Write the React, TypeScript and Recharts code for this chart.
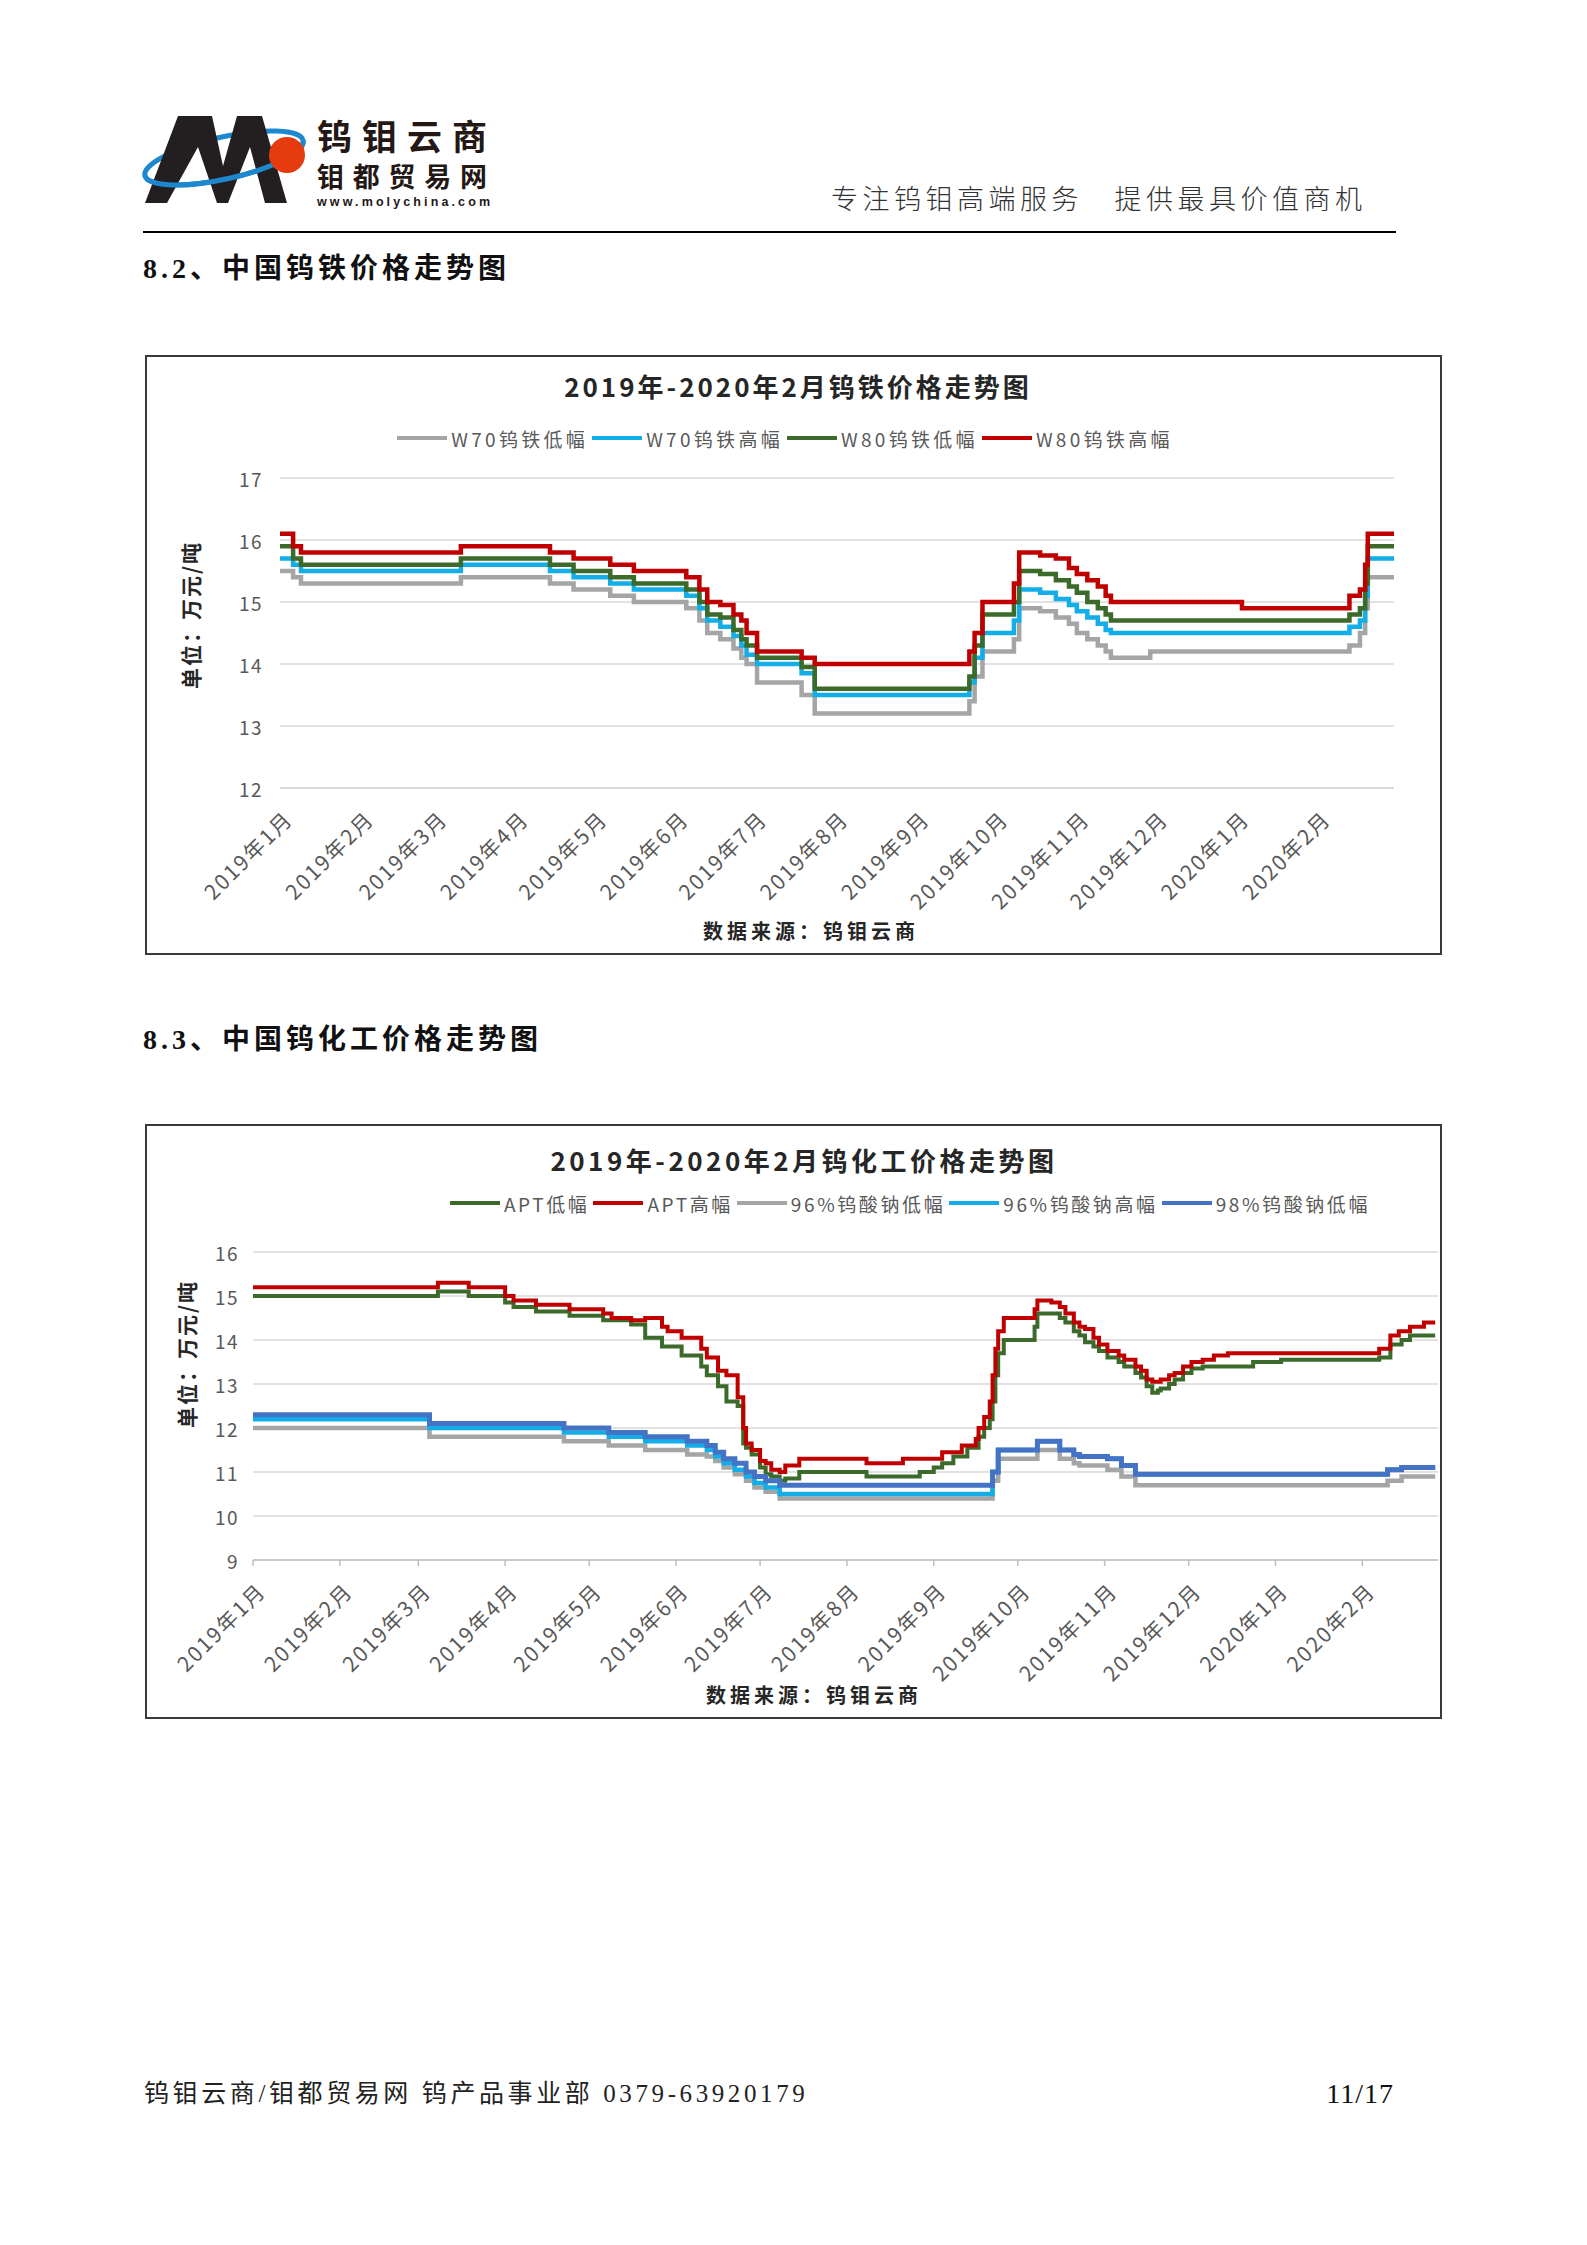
import React from 'react';
import { LineChart, Line, XAxis, YAxis, CartesianGrid } from 'recharts';

const FONT = "'Noto Sans CJK SC', 'Noto Sans', sans-serif";
const SERIF = "'Liberation Serif', 'Noto Sans CJK SC', serif";

// ---------- shared month ticks (day index from 2019-01-01) ----------
const monthTickDays = [0, 31, 59, 90, 120, 151, 181, 212, 243, 273, 304, 334, 365, 396];
const monthTickLabels = [
  '2019年1月', '2019年2月', '2019年3月', '2019年4月', '2019年5月', '2019年6月', '2019年7月',
  '2019年8月', '2019年9月', '2019年10月', '2019年11月', '2019年12月', '2020年1月', '2020年2月',
];

// ---------- Chart 1: 钨铁 ----------
const ferroTitle = '2019年-2020年2月钨铁价格走势图';
const ferroNames = ['W70钨铁低幅', 'W70钨铁高幅', 'W80钨铁低幅', 'W80钨铁高幅'];
const ferroYTicks = [12, 13, 14, 15, 16, 17];
const ferroDays = [0, 5, 8, 69, 103, 112, 126, 135, 155, 160, 163, 168, 173, 176, 178, 182, 199, 204, 263, 265,
  268, 280, 282, 290, 296, 301, 304, 308, 312, 315, 317, 332, 367, 408, 412, 414, 415, 425];
const w80High = [16.1, 15.9, 15.8, 15.9, 15.8, 15.7, 15.6, 15.5, 15.4, 15.2, 15.0, 14.95, 14.8, 14.7, 14.5, 14.2, 14.1, 14.0, 14.2, 14.5,
  15.0, 15.3, 15.8, 15.75, 15.7, 15.55, 15.45, 15.35, 15.25, 15.1, 15.0, 15.0, 14.9, 15.1, 15.2, 15.6, 16.1, 16.1];
const w80Low = [15.9, 15.7, 15.6, 15.7, 15.6, 15.5, 15.4, 15.3, 15.2, 15.0, 14.8, 14.75, 14.55, 14.4, 14.3, 14.1, 13.95, 13.6, 13.8, 14.3,
  14.8, 15.0, 15.5, 15.45, 15.35, 15.25, 15.15, 15.0, 14.9, 14.8, 14.7, 14.7, 14.7, 14.8, 14.9, 15.3, 15.9, 15.9];
const w70High = [15.7, 15.6, 15.5, 15.6, 15.5, 15.4, 15.3, 15.2, 15.1, 14.9, 14.7, 14.6, 14.45, 14.3, 14.15, 14.0, 13.85, 13.5, 13.7, 14.1,
  14.5, 14.7, 15.2, 15.15, 15.05, 14.95, 14.85, 14.75, 14.65, 14.55, 14.5, 14.5, 14.5, 14.6, 14.7, 15.1, 15.7, 15.7];
const w70Low = [15.5, 15.4, 15.3, 15.4, 15.3, 15.2, 15.1, 15.0, 14.9, 14.7, 14.5, 14.4, 14.25, 14.1, 14.0, 13.7, 13.5, 13.2, 13.4, 13.8,
  14.2, 14.4, 14.9, 14.85, 14.75, 14.65, 14.5, 14.4, 14.3, 14.2, 14.1, 14.2, 14.2, 14.3, 14.5, 14.9, 15.4, 15.4];

// ---------- Chart 2: 钨化工 ----------
const chemTitle = '2019年-2020年2月钨化工价格走势图';
const chemNames = ['APT低幅', 'APT高幅', '96%钨酸钠低幅', '96%钨酸钠高幅', '98%钨酸钠低幅'];
const chemYTicks = [9, 10, 11, 12, 13, 14, 15, 16];
const aptDays = [0, 66, 77, 90, 93, 101, 113, 125, 128, 135,
  140, 146, 148, 153, 160, 162, 166, 169, 173, 175,
  176, 178, 181, 183, 185, 188, 190, 195, 219, 232,
  238, 243, 246, 250, 253, 255, 258, 259, 261, 263,
  264, 265, 266, 268, 279, 280, 285, 288, 290, 293,
  295, 297, 300, 302, 305, 309, 311, 315, 317, 319,
  321, 323, 324, 327, 329, 332, 335, 339, 343, 348,
  357, 367, 402, 406, 409, 410, 413, 418, 422];
const aptHigh = [15.2, 15.3, 15.2, 15.0, 14.9, 14.8, 14.7, 14.6, 14.5, 14.45,
  14.5, 14.3, 14.2, 14.05, 13.8, 13.6, 13.3, 13.2, 12.7, 12.0,
  11.65, 11.5, 11.25, 11.2, 11.05, 11.0, 11.15, 11.3, 11.2, 11.3,
  11.3, 11.3, 11.45, 11.45, 11.6, 11.6, 11.75, 12.0, 12.25, 12.6,
  13.2, 13.8, 14.2, 14.5, 14.7, 14.9, 14.85, 14.75, 14.6, 14.4,
  14.3, 14.25, 14.05, 13.9, 13.75, 13.65, 13.55, 13.4, 13.3, 13.1,
  13.05, 13.05, 13.1, 13.2, 13.25, 13.4, 13.5, 13.55, 13.65, 13.7,
  13.7, 13.7, 13.8, 14.1, 14.2, 14.2, 14.3, 14.4, 14.4];
const aptLow = [15.0, 15.1, 15.0, 14.85, 14.75, 14.65, 14.55, 14.45, 14.45, 14.35,
  14.05, 13.85, 13.85, 13.65, 13.4, 13.2, 12.95, 12.6, 12.5, 11.65,
  11.55, 11.4, 11.1, 10.95, 10.9, 10.8, 10.85, 11.0, 10.9, 10.9,
  11.0, 11.1, 11.2, 11.35, 11.35, 11.55, 11.55, 11.8, 12.0, 12.2,
  12.6, 13.2, 13.7, 14.0, 14.3, 14.6, 14.6, 14.5, 14.4, 14.2,
  14.1, 13.95, 13.85, 13.75, 13.6, 13.5, 13.4, 13.25, 13.15, 12.95,
  12.8, 12.85, 12.9, 13.0, 13.1, 13.25, 13.35, 13.4, 13.4, 13.4,
  13.5, 13.55, 13.6, 13.9, 13.9, 14.0, 14.1, 14.1, 14.1];
const naDays = [0, 63, 111, 127, 140, 155, 162, 165, 168, 172, 176, 179, 183, 188, 264, 266, 280, 288, 293, 295, 305, 310, 315, 405, 410, 422];
const na98Low = [12.3, 12.1, 12.0, 11.9, 11.8, 11.7, 11.6, 11.45, 11.3, 11.2, 11.0, 10.9, 10.8, 10.7, 11.0, 11.5, 11.7, 11.5, 11.4, 11.35, 11.3, 11.15, 10.95, 11.05, 11.1, 11.1];
const na96High = [12.2, 12.0, 11.9, 11.8, 11.7, 11.6, 11.5, 11.35, 11.2, 11.05, 10.9, 10.75, 10.65, 10.5, 11.0, 11.5, 11.7, 11.5, 11.4, 11.35, 11.3, 11.15, 10.95, 11.05, 11.1, 11.1];
const na96Low = [12.0, 11.8, 11.7, 11.6, 11.5, 11.4, 11.35, 11.25, 11.1, 10.95, 10.8, 10.65, 10.55, 10.4, 10.8, 11.3, 11.5, 11.3, 11.2, 11.15, 11.05, 10.9, 10.7, 10.8, 10.9, 10.9];

const toPoints = (days: number[], vals: number[]) => days.map((d, i) => ({ d, v: vals[i] }));

const ferroSeries = [
  { name: ferroNames[0], color: '#A5A5A5', width: 4.5, points: toPoints(ferroDays, w70Low) },
  { name: ferroNames[1], color: '#13ADE8', width: 4.5, points: toPoints(ferroDays, w70High) },
  { name: ferroNames[2], color: '#3B6A2B', width: 4.5, points: toPoints(ferroDays, w80Low) },
  { name: ferroNames[3], color: '#C00000', width: 4.5, points: toPoints(ferroDays, w80High) },
];

const chemSeries = [
  { name: chemNames[0], color: '#3B6A2B', width: 4, points: toPoints(aptDays, aptLow) },
  { name: chemNames[1], color: '#C00000', width: 4, points: toPoints(aptDays, aptHigh) },
  { name: chemNames[2], color: '#A5A5A5', width: 4.5, points: toPoints(naDays, na96Low) },
  { name: chemNames[3], color: '#13ADE8', width: 4.5, points: toPoints(naDays, na96High) },
  { name: chemNames[4], color: '#4472C4', width: 5, points: toPoints(naDays, na98Low) },
];

const makeXTick = (dx: number, dy: number) => (props: any) => {
  const { x, y, payload } = props;
  const idx = monthTickDays.indexOf(payload.value);
  const label = idx >= 0 ? monthTickLabels[idx] : '';
  return (
    <g transform={`translate(${x + dx},${y + dy})`}>
      <text textAnchor="end" dominantBaseline="central" transform="rotate(-45)" fontSize={21}
        letterSpacing={2} fill="#595959" fontFamily={FONT}>{label}</text>
    </g>
  );
};

const YTick = (props: any) => {
  const { x, y, payload } = props;
  return (
    <text x={x} y={y} textAnchor="end" dominantBaseline="central" fontSize={19} letterSpacing={1.5}
      fill="#595959" fontFamily={FONT}>{payload.value}</text>
  );
};

const CenterText = ({ cx, cy, size, children, weight = 700, spacing = 0, color = '#262626' }: any) => (
  <div style={{
    position: 'absolute', left: cx - 400, top: cy - size * 0.7, width: 800, height: size * 1.4,
    lineHeight: `${size * 1.4}px`, textAlign: 'center', fontSize: size, fontWeight: weight,
    letterSpacing: spacing, color, fontFamily: FONT, whiteSpace: 'nowrap',
  }}>{children}</div>
);

const VText = ({ cx, cy, size, children }: any) => (
  <div style={{
    position: 'absolute', left: cx - 150, top: cy - 16, width: 300, height: 32, lineHeight: '32px',
    textAlign: 'center', fontSize: size, fontWeight: 700, letterSpacing: 2, color: '#262626',
    fontFamily: FONT, transform: 'rotate(-90deg)', whiteSpace: 'nowrap',
  }}>{children}</div>
);

const LegendRow = ({ cx, cy, items, spacing }: any) => (
  <div style={{
    position: 'absolute', left: cx - 700, top: cy - 15, width: 1400, height: 30, display: 'flex',
    justifyContent: 'center', alignItems: 'center', fontFamily: FONT,
  }}>
    {items.map((it: any) => (
      <div key={it.name} style={{ display: 'flex', alignItems: 'center', marginRight: 4 }}>
        <div style={{ width: 50, height: 4.5, background: it.color, marginRight: 4 }} />
        <span style={{ fontSize: 19, letterSpacing: spacing, color: '#595959', whiteSpace: 'nowrap' }}>{it.name}</span>
      </div>
    ))}
  </div>
);

const Logo = () => (
  <svg style={{ position: 'absolute', left: 140, top: 100 }} width={400} height={120}>
    <ellipse cx={84} cy={58} rx={81} ry={21} transform="rotate(-12.5 84 58)" fill="none" stroke="#1E88CF" strokeWidth={5} />
    <polygon points="5,103 38,16 72,16 83,66 97,16 122,16 147,103 125,103 110,47 88,103 77,103 58,47 27,103" fill="#231F20" />
    <g transform="rotate(-12.5 84 58)">
      <path d="M 3 58 A 81 21 0 0 0 165 58" fill="none" stroke="#1E88CF" strokeWidth={5} />
    </g>
    <circle cx={147} cy={55} r={18} fill="#E63B0E" />
    <text x={177} y={50} fontSize={35} fontWeight={700} fill="#231815" fontFamily={FONT} textLength={170} lengthAdjust="spacing">钨钼云商</text>
    <text x={177} y={87} fontSize={27} fontWeight={700} fill="#231815" fontFamily={FONT} textLength={170} lengthAdjust="spacing">钼都贸易网</text>
    <text x={177} y={106} fontSize={12.5} fontWeight={700} fill="#231815" fontFamily="'Liberation Sans', Arial, sans-serif" textLength={173} lengthAdjust="spacing">www.molychina.com</text>
  </svg>
);

const Box = ({ left, top, width, height }: any) => (
  <div style={{ position: 'absolute', left, top, width, height, border: '2px solid #3a3a3a', boxSizing: 'border-box' }} />
);

export default function App() {
  return (
    <div style={{ position: 'absolute', left: 0, top: 0, width: 1587, height: 2245, background: '#fff', overflow: 'hidden' }}>
      <Logo />
      <div style={{
        position: 'absolute', left: 831, top: 184, fontSize: 27, lineHeight: '28px', letterSpacing: 4.5,
        color: '#333', fontFamily: FONT, fontWeight: 300, whiteSpace: 'nowrap',
      }}>专注钨钼高端服务　提供最具价值商机</div>
      <div style={{ position: 'absolute', left: 143, top: 231, width: 1253, height: 2, background: '#000' }} />

      <div style={{
        position: 'absolute', left: 143, top: 254, fontSize: 28, lineHeight: '30px', letterSpacing: 4,
        fontWeight: 700, color: '#111', fontFamily: SERIF, whiteSpace: 'nowrap',
      }}>8.2、中国钨铁价格走势图</div>

      {/* Chart 1 */}
      <div style={{ position: 'absolute', left: 145, top: 355 }}>
        <LineChart width={1297} height={600} margin={{ top: 123, right: 48, bottom: 0, left: 0 }}>
          <CartesianGrid horizontal vertical={false} stroke="#D9D9D9" strokeWidth={1.5} />
          <XAxis dataKey="d" type="number" domain={[0, 425]} ticks={monthTickDays} interval={0}
            height={167} tickSize={0} tickMargin={0} tickLine={false}
            axisLine={{ stroke: '#D9D9D9', strokeWidth: 1.5 }} tick={makeXTick(8, 26)} />
          <YAxis type="number" domain={[12, 17]} ticks={ferroYTicks} interval={0} width={135}
            tickSize={0} tickMargin={17} tickLine={false} axisLine={false} tick={<YTick />} />
          {ferroSeries.map((s) => (
            <Line key={s.name} name={s.name} data={s.points} dataKey="v" type="stepAfter" stroke={s.color}
              strokeWidth={s.width} dot={false} activeDot={false} isAnimationActive={false} />
          ))}
        </LineChart>
      </div>
      <Box left={145} top={355} width={1297} height={600} />
      <CenterText cx={798} cy={386} size={26} spacing={3}>{ferroTitle}</CenterText>
      <LegendRow cx={787} cy={438} items={ferroSeries} spacing={3.3} />
      <VText cx={190} cy={615} size={21}>单位：万元/吨</VText>
      <CenterText cx={811} cy={931} size={20} spacing={4}>数据来源：钨钼云商</CenterText>

      <div style={{
        position: 'absolute', left: 143, top: 1025, fontSize: 28, lineHeight: '30px', letterSpacing: 4,
        fontWeight: 700, color: '#111', fontFamily: SERIF, whiteSpace: 'nowrap',
      }}>8.3、中国钨化工价格走势图</div>

      {/* Chart 2 */}
      <div style={{ position: 'absolute', left: 145, top: 1124 }}>
        <LineChart width={1297} height={595} margin={{ top: 128, right: 4, bottom: 0, left: 0 }}>
          <CartesianGrid horizontal vertical={false} stroke="#D9D9D9" strokeWidth={1.5} />
          <XAxis dataKey="d" type="number" domain={[0, 423]} ticks={monthTickDays} interval={0}
            height={159} tickSize={6} tickMargin={0}
            tickLine={{ stroke: '#BFBFBF', strokeWidth: 1.5 }}
            axisLine={{ stroke: '#BFBFBF', strokeWidth: 1.5 }} tick={makeXTick(8, 20)} />
          <YAxis type="number" domain={[9, 16]} ticks={chemYTicks} interval={0} width={108}
            tickSize={0} tickMargin={14} tickLine={false} axisLine={false} tick={<YTick />} />
          {chemSeries.map((s) => (
            <Line key={s.name} name={s.name} data={s.points} dataKey="v" type="stepAfter" stroke={s.color}
              strokeWidth={s.width} dot={false} activeDot={false} isAnimationActive={false} />
          ))}
        </LineChart>
      </div>
      <Box left={145} top={1124} width={1297} height={595} />
      <CenterText cx={804} cy={1160} size={26} spacing={3.5}>{chemTitle}</CenterText>
      <LegendRow cx={912} cy={1203} items={chemSeries} spacing={2.6} />
      <VText cx={186} cy={1354} size={21}>单位：万元/吨</VText>
      <CenterText cx={814} cy={1695} size={20} spacing={4}>数据来源：钨钼云商</CenterText>

      {/* Footer */}
      <div style={{
        position: 'absolute', left: 144, top: 2080, fontSize: 25, lineHeight: '28px', letterSpacing: 3.6,
        color: '#222', fontFamily: SERIF, whiteSpace: 'nowrap',
      }}>钨钼云商/钼都贸易网 钨产品事业部 0379-63920179</div>
      <div style={{
        position: 'absolute', left: 1244, top: 2079, width: 150, textAlign: 'right', fontSize: 28, lineHeight: '30px',
        letterSpacing: 1, color: '#111', fontFamily: SERIF, whiteSpace: 'nowrap',
      }}>11/17</div>
    </div>
  );
}
